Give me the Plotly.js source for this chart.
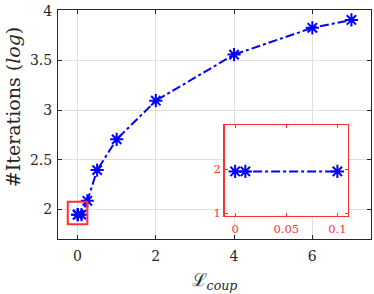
<!DOCTYPE html>
<html><head><meta charset="utf-8">
<script src="https://cdn.plot.ly/plotly-3.0.1.min.js"></script>
<style>html,body{margin:0;padding:0;background:#fff}#c{width:374px;height:294px}</style>
</head><body><div id="c"></div>
<script>
const coupVals = [0, 0.01, 0.1, 0.25, 0.5, 1, 2, 4, 6, 7];
const iterLog = [1.945, 1.945, 1.945, 2.085, 2.395, 2.705, 3.095, 3.56, 3.83, 3.91];
const insetX = [0, 0.01, 0.1];
const insetY = [1.945, 1.945, 1.945];
const mainXTicks = [0, 2, 4, 6];
const mainYTicks = [2, 2.5, 3, 3.5, 4];
const mainYTickText = ['2', '2.5', '3', '3.5', '4'];
const insetXTicks = [0, 0.05, 0.1];
const insetXTickText = ['0', '0.05', '0.1'];
const insetYTicks = [1, 2];

const blue = '#0000ff', red = '#ff3030', axc = '#262626';
const fam = "DejaVu Serif";
const font = {family: fam, size: 14, color: axc};

const traceStyle = {
  mode: 'lines+markers',
  line: {color: blue, width: 2, dash: 'dashdot'},
  marker: {symbol: 'asterisk-open', size: 11, color: blue, line: {color: blue, width: 2}},
  hoverinfo: 'skip', showlegend: false
};

const data = [
  Object.assign({x: coupVals, y: iterLog, xaxis: 'x', yaxis: 'y'}, traceStyle),
  Object.assign({x: insetX, y: insetY, xaxis: 'x2', yaxis: 'y2'}, traceStyle)
];

const layout = {
  width: 374, height: 294,
  margin: {l: 57.5, r: 3.3, t: 9.5, b: 54.5},
  paper_bgcolor: '#fff', plot_bgcolor: '#fff',
  font: font,
  xaxis: {
    range: [-0.5, 7.5], tickvals: mainXTicks, ticktext: mainXTicks.map(String),
    showline: true, linecolor: axc, linewidth: 1, mirror: 'ticks',
    ticks: 'inside', ticklen: 4, tickcolor: axc,
    showgrid: true, gridcolor: '#e0e0e0', zeroline: false,
    tickfont: {family: fam, size: 14}, domain: [0, 1], ticklabelstandoff: 4,
    title: {text: 'ℒ<sub><i>coup</i></sub>', font: {family: fam, size: 18}, standoff: 10}
  },
  yaxis: {
    range: [1.7, 4.01], tickvals: mainYTicks, ticktext: mainYTickText,
    showline: true, linecolor: axc, linewidth: 1, mirror: 'ticks',
    ticks: 'inside', ticklen: 4, tickcolor: axc,
    showgrid: true, gridcolor: '#e0e0e0', zeroline: false,
    tickfont: {family: fam, size: 14}, domain: [0, 1], ticklabelstandoff: 2
  },
  xaxis2: {
    anchor: 'y2', domain: [0.5326, 0.9253], range: [-0.0102, 0.110],
    tickvals: insetXTicks, ticktext: insetXTickText,
    showline: true, linecolor: red, linewidth: 1.5, mirror: 'ticks',
    ticks: 'inside', ticklen: 3, tickcolor: red,
    showgrid: false, zeroline: false, ticklabelstandoff: 2,
    tickfont: {family: fam, size: 11.5, color: red}
  },
  yaxis2: {
    anchor: 'x2', domain: [0.102, 0.4978], range: [0.94, 3.0],
    tickvals: insetYTicks, ticktext: insetYTicks.map(String),
    showline: true, linecolor: red, linewidth: 1.5, mirror: 'ticks',
    ticks: 'inside', ticklen: 3, tickcolor: red,
    showgrid: false, zeroline: false,
    tickfont: {family: fam, size: 11.5, color: red}
  },
  annotations: [
    {text: '#Iterations (<i>log</i>)', xref: 'paper', yref: 'paper',
     x: -0.145, y: 0.574, xanchor: 'center', yanchor: 'middle',
     textangle: -90, showarrow: false, font: {family: fam, size: 19, color: axc}}
  ],
  shapes: [
    {type: 'rect', xref: 'x2', yref: 'y2', x0: -0.0102, x1: 0.110, y0: 0.94, y1: 3.0,
     fillcolor: '#fff', line: {width: 0}, layer: 'below'},
    {type: 'rect', xref: 'x', yref: 'y', x0: -0.25, x1: 0.25, y0: 1.848, y1: 2.077,
     line: {color: red, width: 2}, fillcolor: 'rgba(0,0,0,0)', layer: 'above'}
  ]
};

Plotly.newPlot('c', data, layout, {staticPlot: true, displayModeBar: false});
</script></body></html>
